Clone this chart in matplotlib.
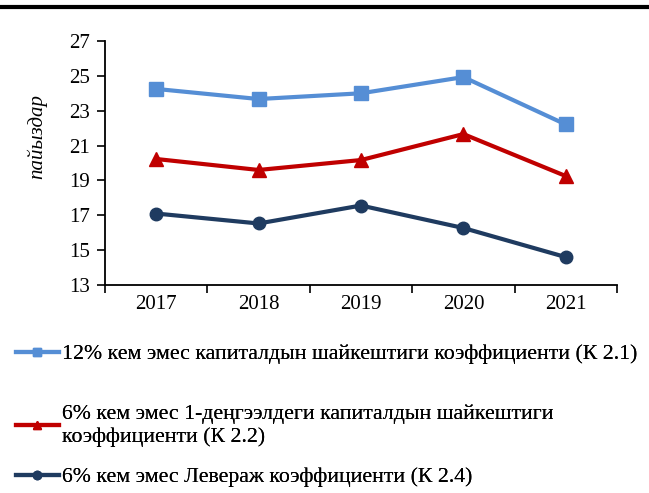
import matplotlib
matplotlib.use("Agg")
import matplotlib.pyplot as plt
from matplotlib.lines import Line2D

plt.rcParams['font.family'] = ['Liberation Serif', 'DejaVu Serif']

years = ["2017", "2018", "2019", "2020", "2021"]
k21 = [24.25, 23.67, 24.0, 24.93, 22.21]
k22 = [20.23, 19.6, 20.17, 21.66, 19.25]
k24 = [17.1, 16.53, 17.56, 16.27, 14.6]

labels = [
    "12% кем эмес капиталдын шайкештиги коэффициенти (К 2.1)",
    "6% кем эмес 1-деңгээлдеги капиталдын шайкештиги\nкоэффициенти (К 2.2)",
    "6% кем эмес Левераж коэффициенти (К 2.4)",
]
colors = ["#558ED5", "#C00000", "#1F3B60"]
markers = ["s", "^", "o"]
sizes = [9.5, 10, 9]
series = [k21, k22, k24]

W, H = 649, 493
fig = plt.figure(figsize=(W / 100, H / 100), dpi=100)
ax = fig.add_axes([105 / W, 1 - 285 / H, 512 / W, 244 / H])

x = list(range(len(years)))
for vals, c, m, ms in zip(series, colors, markers, sizes):
    ax.plot(x, vals, color=c, lw=3, marker=m, markersize=ms,
            markeredgecolor=c, markerfacecolor=c, solid_joinstyle="round")

ax.set_xlim(-0.5, len(years) - 0.5)
ax.set_ylim(13, 27)
ax.set_yticks(range(13, 28, 2))
ax.set_xticks([i + 0.5 for i in range(-1, len(years))], minor=False)
ax.set_xticklabels([])
ax.set_xticks(x, minor=True)
ax.set_xticklabels(years, minor=True)
ax.tick_params(axis="x", which="major", length=6, width=1.2, direction="out")
ax.tick_params(axis="x", which="minor", length=0, pad=7, labelsize=15)
ax.tick_params(axis="y", length=6, width=1.2, direction="out", labelsize=15, pad=5)
for s in ["top", "right"]:
    ax.spines[s].set_visible(False)
for s in ["left", "bottom"]:
    ax.spines[s].set_linewidth(1.3)
ax.set_ylabel("пайыздар", style="italic", fontsize=15)
ax.yaxis.set_label_coords(-0.113, 0.61)

# rule across the top of the figure
fig.add_artist(Line2D([0, 1], [1 - 7 / H, 1 - 7 / H], color="black", lw=3, transform=fig.transFigure))

# legend entries stacked below the plot
ypos = [354, 426, 477]
for lab, c, m, yp in zip(labels, colors, markers, ypos):
    h = Line2D([], [], color=c, lw=3, marker=m, markersize=6, markeredgecolor=c, markerfacecolor=c)
    leg = fig.legend([h], [lab], loc="center left", bbox_to_anchor=(16 / W, 1 - yp / H),
                     frameon=False, fontsize=15.7, handlelength=1.95, handletextpad=0.15,
                     borderaxespad=0, borderpad=0)
    fig.add_artist(leg)

fig.savefig("out.png", dpi=100)
